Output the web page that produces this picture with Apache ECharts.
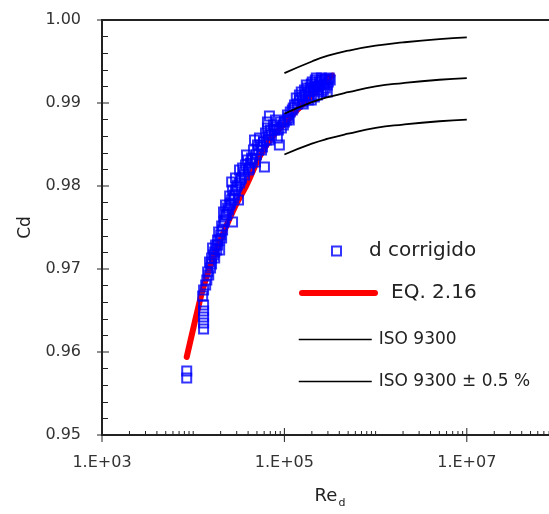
<!DOCTYPE html>
<html>
<head>
<meta charset="utf-8">
<script src="https://cdn.jsdelivr.net/npm/echarts@6/dist/echarts.min.js"></script>
<style>
html,body{margin:0;padding:0;background:#fff;}
#chart{width:549px;height:514px;}
</style>
</head>
<body>
<div id="chart"></div>
<script>
// ---- data ----
const yTicks = [0.95, 0.96, 0.97, 0.98, 0.99, 1.00];
const xMajorTicks = [1e3, 1e5, 1e7];
const xTickLabels = ['1.E+03', '1.E+05', '1.E+07'];
const xMinorTicks = [2e3,3e3,4e3,5e3,6e3,7e3,8e3,9e3,1e4,2e4,3e4,4e4,5e4,6e4,7e4,8e4,9e4,
  2e5,3e5,4e5,5e5,6e5,7e5,8e5,9e5,1e6,2e6,3e6,4e6,5e6,6e6,7e6,8e6,9e6,
  2e7,3e7,4e7,5e7,6e7,7e7,8e7,9e7];

// d corrigido [Re, Cd]
const corrigido = [
  [8.49e3,0.95771],[8.49e3,0.95687],
  [1.30e4,0.96566],[1.30e4,0.96494],[1.30e4,0.96422],[1.30e4,0.96349],[1.30e4,0.96277],
  [1.27e4,0.96675],[1.30e4,0.96747],[1.41e4,0.96867],[1.44e4,0.96964],[1.37e4,0.96807],
  [1.51e4,0.97084],[1.59e4,0.97133],[1.67e4,0.97169],[1.63e4,0.97253],[1.76e4,0.97289],
  [1.85e4,0.97349],[1.72e4,0.97205],[1.95e4,0.97229],[2.05e4,0.97373],[1.90e4,0.97446],
  [2.05e4,0.97518],[2.21e4,0.97590],[2.32e4,0.97651],[2.15e4,0.97687],[2.44e4,0.97711],
  [2.26e4,0.97771],[2.57e4,0.97795],[2.70e4,0.97566],[2.51e4,0.97880],[2.70e4,0.97952],
  [2.84e4,0.97892],[2.99e4,0.97988],[2.64e4,0.98048],[3.14e4,0.97831],[3.22e4,0.98036],
  [2.91e4,0.98096],[3.39e4,0.98096],[3.56e4,0.98169],[3.22e4,0.98193],[3.75e4,0.98253],
  [3.94e4,0.98313],[4.14e4,0.98217],[4.36e4,0.98337],[3.84e4,0.98373],[4.58e4,0.98434],
  [4.82e4,0.98289],[5.07e4,0.98494],[4.70e4,0.98554],[5.33e4,0.98578],[5.61e4,0.98434],
  [6.04e4,0.98229],[5.89e4,0.98530],[6.20e4,0.98639],[6.52e4,0.98699],[6.85e4,0.98554],
  [7.21e4,0.98614],[7.78e4,0.98675],[8.38e4,0.98578],[8.81e4,0.98494],[6.85e4,0.98843],
  [6.52e4,0.98771],[7.98e4,0.98795],[9.27e4,0.98699],[1.00e5,0.98771],[1.08e5,0.98855],
  [1.13e5,0.98795],[1.22e5,0.98916],[1.29e5,0.98976],[1.35e5,0.99060],[1.46e5,0.99036],
  [1.53e5,0.99133],[1.61e5,0.98988],[1.70e5,0.99096],[1.78e5,0.99181],[1.88e5,0.99084],
  [1.97e5,0.99229],[2.07e5,0.99157],[2.18e5,0.99277],[2.30e5,0.99193],[2.41e5,0.99253],
  [2.54e5,0.99301],[2.67e5,0.99157],[2.81e5,0.99277],[2.95e5,0.99217],[3.10e5,0.99301],
  [2.95e5,0.99133],[2.30e5,0.99096],[1.97e5,0.99036],
  [1.46e5,0.99096],[1.57e5,0.99072],[1.66e5,0.99157],[1.74e5,0.99217],[1.83e5,0.99133],
  [1.92e5,0.99181],[2.02e5,0.99253],[2.13e5,0.99205],[2.24e5,0.99301],[2.36e5,0.99157],
  [2.47e5,0.99217],[2.60e5,0.99277],[2.74e5,0.99229],[2.88e5,0.99289],[3.03e5,0.99253],
  [3.18e5,0.99277],[2.81e5,0.99181],[2.54e5,0.99133],[2.13e5,0.99072],[1.83e5,0.99036],
  [1.57e5,0.99012],[1.39e5,0.98988],[1.25e5,0.98940],[1.16e5,0.98892],[1.11e5,0.98819],
  [1.05e5,0.98795],[9.75e4,0.98735],[9.04e4,0.98771],[8.59e4,0.98675],[8.19e4,0.98711],
  [7.59e4,0.98735],[7.03e4,0.98675],[6.68e4,0.98614],[6.35e4,0.98554],[5.75e4,0.98470],
  [5.47e4,0.98494],[5.20e4,0.98434],[4.94e4,0.98373],[4.47e4,0.98313],[4.25e4,0.98277],
  [4.04e4,0.98193],[3.66e4,0.98133],[3.48e4,0.98217],[3.30e4,0.98072],[3.06e4,0.98012],
  [2.91e4,0.97952],[2.77e4,0.97855],[2.64e4,0.97831],[2.51e4,0.97771],[2.38e4,0.97735],
  [2.26e4,0.97651],[2.15e4,0.97566],[2.10e4,0.97470],[2.00e4,0.97410],[1.95e4,0.97349],
  [1.85e4,0.97289],[1.81e4,0.97229],[1.72e4,0.97133],[1.59e4,0.97060],[1.55e4,0.97012],
  [1.48e4,0.96928]
];

// EQ. 2.16
const eqRe = [8.49e3,1.04e4,1.27e4,1.51e4,2.10e4,2.84e4,3.84e4,5.33e4,7.21e4,1.00e5,1.39e5,1.97e5,2.60e5,3.35e5];
const eqCd = [0.9594,0.9636,0.9675,0.9701,0.9741,0.9774,0.9801,0.9835,0.9858,0.9875,0.9892,0.9908,0.9923,0.9933];

// ISO 9300 and +/- 0.5 %
const isoRe  = [1e5, 2e5, 3e5, 5e5, 1e6, 2e6, 5e6, 1e7];
const isoMid = [0.9887,0.9901,0.9907,0.9913,0.9920,0.9924,0.9928,0.9930];
const isoUp  = [0.9936,0.9950,0.9957,0.9963,0.9969,0.9973,0.9977,0.9979];
const isoLow = [0.9838,0.9851,0.9857,0.9863,0.9870,0.9874,0.9878,0.9880];

// ---- chart ----
const FONT = 'DejaVu Sans';
const AX = '#222';
const zip = (a, b) => a.map((v, i) => [v, b[i]]);
const chart = echarts.init(document.getElementById('chart'), null, {renderer: 'canvas'});

function tickSeries(name, data, draw) {
  return {
    type: 'custom', name: name, silent: true, z: 10, clip: false,
    data: data,
    renderItem: function (params, api) {
      const p = api.coord([api.value(0), api.value(1)]);
      const s = draw(p);
      return {type: 'line', shape: s, style: {stroke: AX, lineWidth: 1}};
    }
  };
}

const hiddenSymbol = {color: 'rgba(0,0,0,0)', borderColor: 'rgba(0,0,0,0)', borderWidth: 0, opacity: 0};

const option = {
  animation: false,
  backgroundColor: '#fff',
  grid: {
    left: 102, top: 20, right: -9, bottom: 79,
    show: true, borderColor: AX, borderWidth: 2, backgroundColor: 'transparent',
    containLabel: false, outerBoundsMode: 'none'
  },
  xAxis: {
    type: 'log', logBase: 10, min: 1e3, max: 1e8,
    axisLine: {show: false},
    axisTick: {show: false},
    splitLine: {show: false},
    axisLabel: {
      margin: 20, color: '#333', fontFamily: FONT, fontSize: 16, hideOverlap: false,
      formatter: function (v) {
        for (let i = 0; i < xMajorTicks.length; i++) {
          if (Math.abs(Math.log10(v) - Math.log10(xMajorTicks[i])) < 1e-6) return xTickLabels[i];
        }
        return '';
      }
    },
    name: '{a|Re}{b|d}',
    nameLocation: 'middle',
    nameGap: 50,
    nameTextStyle: {
      color: AX, fontFamily: FONT,
      rich: {
        a: {fontSize: 18, fontFamily: FONT, color: AX, verticalAlign: 'bottom', lineHeight: 20},
        b: {fontSize: 11, fontFamily: FONT, color: AX, verticalAlign: 'bottom', lineHeight: 11, padding: [0, 0, -4, 1]}
      }
    }
  },
  yAxis: {
    type: 'value', min: 0.95, max: 1.0, interval: 0.01,
    axisLine: {show: false},
    axisTick: {show: false, inside: true},
    minorTick: {show: true, splitNumber: 5, length: 6, lineStyle: {color: AX, width: 1}},
    splitLine: {show: false},
    axisLabel: {
      margin: 21, color: '#333', fontFamily: FONT, fontSize: 16,
      formatter: function (v) { return v.toFixed(2); }
    },
    name: 'Cd',
    nameLocation: 'middle',
    nameGap: 62,
    nameTextStyle: {color: AX, fontFamily: FONT, fontSize: 17}
  },
  legend: [
    {
      data: [{name: 'd corrigido', icon: 'rect'}], left: 331, top: 241, padding: 0, selectedMode: false,
      itemWidth: 9, itemHeight: 9,
      itemStyle: {color: 'rgba(0,0,0,0)', borderColor: '#0000ff', borderWidth: 2},
      textStyle: {fontFamily: FONT, fontSize: 20, color: AX, padding: [0, 0, 0, 23]}
    },
    {
      data: ['EQ. 2.16'], left: 299, top: 283, padding: 0, selectedMode: false,
      itemWidth: 73, itemHeight: 14,
      itemStyle: hiddenSymbol,
      lineStyle: {color: '#ff0000', width: 6, cap: 'round'},
      textStyle: {fontFamily: FONT, fontSize: 20, color: AX, padding: [0, 0, 0, 11]}
    },
    {
      data: ['ISO 9300'], left: 298, top: 331, padding: 0, selectedMode: false,
      itemWidth: 73, itemHeight: 14,
      itemStyle: hiddenSymbol,
      lineStyle: {color: '#000', width: 1.5},
      textStyle: {fontFamily: FONT, fontSize: 17, color: AX, padding: [0, 0, 0, 2]}
    },
    {
      data: ['ISO 9300 ± 0.5 %'], left: 298, top: 373, padding: 0, selectedMode: false,
      itemWidth: 73, itemHeight: 14,
      itemStyle: hiddenSymbol,
      lineStyle: {color: '#000', width: 1.5},
      textStyle: {fontFamily: FONT, fontSize: 17, color: AX, padding: [0, 0, 0, 2]}
    }
  ],
  series: [
    {
      name: 'EQ. 2.16', type: 'line', data: zip(eqRe, eqCd), smooth: 0.3,
      symbol: 'none', showSymbol: false, z: 2,
      lineStyle: {color: '#ff0000', width: 6, cap: 'round'},
      itemStyle: {color: '#ff0000'}
    },
    {
      name: 'd corrigido', type: 'scatter', data: corrigido, z: 3,
      symbol: 'rect', symbolSize: 9,
      itemStyle: {color: 'rgba(0,0,0,0)', borderColor: '#0000ff', borderWidth: 2}
    },
    {
      name: 'ISO 9300', type: 'line', data: zip(isoRe, isoMid), smooth: true,
      symbol: 'none', showSymbol: false, z: 4,
      lineStyle: {color: '#000', width: 1.8}, itemStyle: {color: '#000'}
    },
    {
      name: 'ISO 9300 ± 0.5 %', type: 'line', data: zip(isoRe, isoUp), smooth: true,
      symbol: 'none', showSymbol: false, z: 4,
      lineStyle: {color: '#000', width: 1.8}, itemStyle: {color: '#000'}
    },
    {
      name: 'ISO 9300 ± 0.5 %', type: 'line', data: zip(isoRe, isoLow), smooth: true,
      symbol: 'none', showSymbol: false, z: 4,
      lineStyle: {color: '#000', width: 1.8}, itemStyle: {color: '#000'}
    },
    tickSeries('xMajor', xMajorTicks.map(v => [v, 0.95]), p => ({x1: p[0], y1: p[1] - 7, x2: p[0], y2: p[1] + 7})),
    tickSeries('xMinor', xMinorTicks.map(v => [v, 0.95]), p => ({x1: p[0], y1: p[1] - 4, x2: p[0], y2: p[1]})),
    tickSeries('yMajor', yTicks.map(v => [1e3, v]), p => ({x1: p[0] - 5, y1: p[1], x2: p[0] + 7, y2: p[1]}))
  ]
};
chart.setOption(option);
</script>
</body>
</html>
